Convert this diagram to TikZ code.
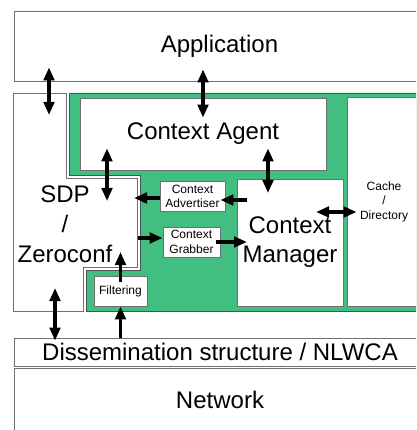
\documentclass[tikz,border=0pt]{standalone}
\usepackage{fontspec}
\setmainfont{Liberation Sans}
\usetikzlibrary{arrows.meta}
\definecolor{zonegreen}{RGB}{66,190,128}
\definecolor{edgegray}{RGB}{112,112,112}
\definecolor{zoneedge}{RGB}{80,80,80}

\begin{document}
\begin{tikzpicture}[x=1pt,y=-1pt,
    box/.style={draw=edgegray,fill=white,line width=0.8pt,inner sep=0pt,align=center},
    big/.style={font=\fontsize{24}{29}\selectfont},
    small/.style={font=\fontsize{12}{14.5}\selectfont},
    arr/.style={line width=3.2pt,-{Triangle[length=13pt,width=10.5pt]}},
    dbl/.style={line width=3.2pt,{Triangle[length=13pt,width=10.5pt]}-{Triangle[length=13pt,width=10.5pt]}}]
    \useasboundingbox (0,0) rectangle (416,430);
    \clip (0,0) rectangle (416,430);

    % Zone verte et zone SDP
    \draw[fill=zonegreen,draw=zoneedge,line width=0.8pt]
        (69,93) -- (425,93) -- (425,311) -- (86,311) -- (86,270)
        -- (140,270) -- (140,175) -- (69,175) -- cycle;
    \draw[fill=white,draw=edgegray,line width=0.8pt]
        (13,93) -- (66,93) -- (66,178) -- (137,178) -- (137,267)
        -- (83,267) -- (83,311) -- (13,311) -- cycle;

    % Couches
    \node[box,big,minimum width=411pt,minimum height=70pt] (app) at (219.5,46) {Application};
    \node[box,big,minimum width=412pt,minimum height=28pt] (diss) at (220,352) {Dissemination structure / NLWCA};
    \node[box,big,minimum width=412pt,minimum height=64pt] (net) at (220,400) {Network};

    % Blocs
    \node[box,big,minimum width=246pt,minimum height=72pt] (agent) at (203,134) {Context Agent};
    \node[box,big,minimum width=106pt,minimum height=127pt] (mgr) at (290,242.5) {Context\\Manager};
    \node[box,small,minimum width=74pt,minimum height=209pt] (cache) at (384,201.5) {Cache\\/\\Directory};
    \node[box,small,minimum width=65pt,minimum height=30pt] (adv) at (192.5,196.5) {Context\\Advertiser};
    \node[box,small,minimum width=57pt,minimum height=30pt] (grab) at (191.5,242) {Context\\Grabber};
    \node[box,small,minimum width=53pt,minimum height=30pt] (filt) at (120.5,291) {Filtering};
    \node[font=\fontsize{24}{30}\selectfont,align=center,inner sep=0pt] (sdp) at (65,224) {SDP\\/\\Zeroconf};

    % Extremites dans les blocs
    \coordinate (sdpA) at (49,115);
    \coordinate (sdpB) at (107,201);
    \coordinate (sdpC) at (134,198);
    \coordinate (sdpD) at (138,238);
    \coordinate (sdpE) at (120.5,252);
    \coordinate (sdpF) at (55,288);
    \coordinate (mgrA) at (268,193);
    \coordinate (mgrB) at (247,200);
    \coordinate (mgrC) at (247,242);
    \coordinate (mgrD) at (316,212);

    % Fleches
    \draw[dbl] ([yshift=14pt]app.south -| sdpA) -- (sdpA);
    \draw[dbl] ([yshift=12pt]app.south -| agent.north) -- ([yshift=-20pt]agent.north);
    \draw[dbl] ([yshift=22pt]agent.south -| sdpB) -- (sdpB);
    \draw[dbl] ([yshift=22pt]agent.south -| mgrA) -- (mgrA);
    \draw[arr] (mgrB) -- ([xshift=-5pt]adv.east |- mgrB);
    \draw[arr] (adv.west |- sdpC) -- (sdpC);
    \draw[arr] (sdpD) -- (grab.west |- sdpD);
    \draw[arr] ([xshift=-4pt]grab.east |- mgrC) -- (mgrC);
    \draw[dbl] (mgrD) -- ([xshift=10pt]cache.west |- mgrD);
    \draw[arr] ([yshift=-6pt]filt.north) -- (sdpE);
    \draw[arr] (diss.north -| filt.south) -- (filt.south);
    \draw[dbl] (sdpF) -- ([yshift=-3pt]diss.north -| sdpF);
\end{tikzpicture}
\end{document}
